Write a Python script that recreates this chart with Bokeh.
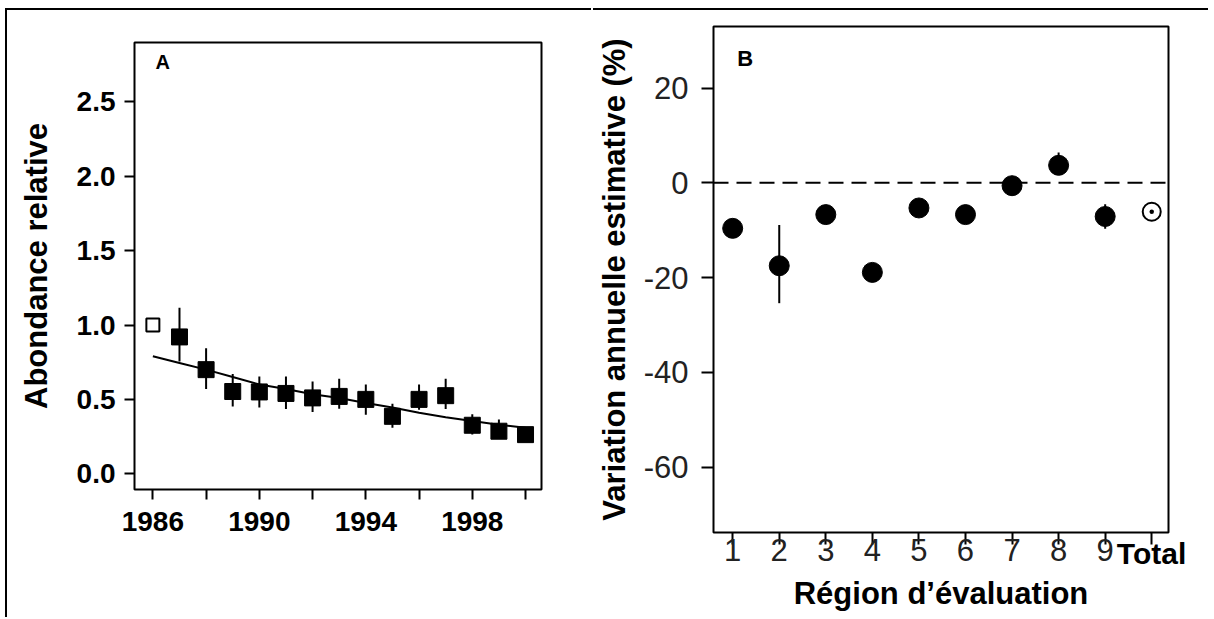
from bokeh.plotting import figure
from bokeh.models import FixedTicker, Span, Label, Range1d, ColumnDataSource
from bokeh.core.properties import value
from bokeh.embed import file_html
from bokeh.resources import INLINE

# ---- Panel A data ----
years = [1986, 1987, 1988, 1989, 1990, 1991, 1992, 1993, 1994, 1995, 1996, 1997, 1998, 1999, 2000]
abundance = [1.00, 0.92, 0.70, 0.553, 0.55, 0.54, 0.51, 0.52, 0.50, 0.386, 0.50, 0.525, 0.326, 0.286, 0.263]
ab_low = [1.00, 0.755, 0.57, 0.453, 0.446, 0.435, 0.415, 0.437, 0.397, 0.31, 0.43, 0.435, 0.264, 0.237, 0.24]
ab_high = [1.00, 1.116, 0.844, 0.67, 0.654, 0.654, 0.62, 0.638, 0.60, 0.47, 0.60, 0.638, 0.40, 0.364, 0.29]
trend = [0.79, 0.745, 0.70, 0.65, 0.60, 0.57, 0.535, 0.51, 0.475, 0.445, 0.41, 0.38, 0.355, 0.33, 0.31]
a_xticks = [1986, 1988, 1990, 1992, 1994, 1996, 1998, 2000]
a_xlabels = ["1986", "", "1990", "", "1994", "", "1998", ""]
a_yticks = [0.0, 0.5, 1.0, 1.5, 2.0, 2.5]
a_ylabels = ["0.0", "0.5", "1.0", "1.5", "2.0", "2.5"]

# ---- Panel B data ----
regions = ["1", "2", "3", "4", "5", "6", "7", "8", "9", "Total"]
change = [-9.6, -17.5, -6.7, -18.9, -5.3, -6.7, -0.6, 3.7, -7.1, -6.1]
ch_low = [-11.0, -25.4, -8.0, -20.3, -6.5, -8.0, -2.0, 2.3, -9.7, -7.0]
ch_high = [-8.2, -8.9, -5.4, -17.5, -4.1, -5.4, 0.8, 6.4, -4.5, -5.2]
b_yticks = [20, 0, -20, -40, -60]
b_ylabels = ["20", "0", "-20", "-40", "-60"]

FONT = "Liberation Sans"

# ================= Panel A =================
pA = figure(width=586, height=609, output_backend="svg", toolbar_location=None,
            x_range=Range1d(1985.31, 2000.6), y_range=Range1d(-0.106, 2.90),
            min_border_left=127, min_border_right=52, min_border_top=32, min_border_bottom=130)
pA.styles = {"position": "absolute", "left": "5px", "top": "8px",
             "border-top": "2px solid black", "border-left": "2px solid black"}
pA.xgrid.visible = False
pA.ygrid.visible = False
pA.outline_line_color = "black"
pA.outline_line_width = 2
pA.background_fill_color = "white"
pA.border_fill_color = "white"

src_a = ColumnDataSource(dict(x=years[1:], y=abundance[1:], lo=ab_low[1:], hi=ab_high[1:]))
pA.segment(x0="x", y0="lo", x1="x", y1="hi", source=src_a, line_color="black", line_width=2)
pA.line(years, trend, line_color="black", line_width=2)
pA.scatter(x="x", y="y", source=src_a, marker="square", size=16, fill_color="black", line_color="black")
pA.scatter([years[0]], [abundance[0]], marker="square", size=13, fill_color="white",
           line_color="black", line_width=2)

for ax in (pA.xaxis[0], pA.yaxis[0]):
    ax.axis_line_color = None
    ax.major_tick_line_color = "black"
    ax.major_tick_line_width = 2
    ax.major_tick_out = 10
    ax.major_tick_in = 0
    ax.minor_tick_line_color = None
    ax.major_label_text_font = FONT
    ax.major_label_text_font_style = "bold"
    ax.major_label_text_color = "black"

pA.xaxis.ticker = FixedTicker(ticks=a_xticks)
pA.xaxis.major_label_overrides = {t: l for t, l in zip(a_xticks, a_xlabels)}
pA.xaxis.major_label_text_font_size = "28px"
pA.xaxis.major_label_standoff = 12

pA.yaxis.ticker = FixedTicker(ticks=a_yticks)
pA.yaxis.major_label_overrides = {t: l for t, l in zip(a_yticks, a_ylabels)}
pA.yaxis.major_label_text_font_size = "28px"
pA.yaxis.major_label_standoff = 9
pA.yaxis.axis_label = "Abondance relative"
pA.yaxis.axis_label_text_font = FONT
pA.yaxis.axis_label_text_font_style = "bold"
pA.yaxis.axis_label_text_font_size = "31px"
pA.yaxis.axis_label_text_color = "black"
pA.yaxis.axis_label_standoff = 20

pA.add_layout(Label(x=1986.1, y=2.77, text="A", text_font=FONT, text_font_style="bold",
                    text_font_size="20px", text_color="black",
                    text_baseline="middle", text_align="left"))

# ================= Panel B =================
xb = list(range(1, len(regions) + 1))
pB = figure(width=615, height=609, output_backend="svg", toolbar_location=None,
            x_range=Range1d(0.588, 10.36), y_range=Range1d(-73.8, 33.0),
            min_border_left=117, min_border_right=40, min_border_top=16, min_border_bottom=87)
pB.styles = {"position": "absolute", "left": "593px", "top": "8px",
             "border-top": "2px solid black"}
pB.xgrid.visible = False
pB.ygrid.visible = False
pB.outline_line_color = "black"
pB.outline_line_width = 2
pB.background_fill_color = "white"
pB.border_fill_color = "white"

pB.add_layout(Span(location=0, dimension="width", line_color="black", line_width=2, line_dash="15 8"))

src_b = ColumnDataSource(dict(x=xb[:-1], y=change[:-1], lo=ch_low[:-1], hi=ch_high[:-1]))
pB.segment(x0="x", y0="lo", x1="x", y1="hi", source=src_b, line_color="black", line_width=2)
pB.scatter(x="x", y="y", source=src_b, marker="circle", size=20, fill_color="black", line_color="black")
pB.scatter([xb[-1]], [change[-1]], marker="circle_dot", size=18, fill_color="white",
           line_color="black", line_width=2)

for ax in (pB.xaxis[0], pB.yaxis[0]):
    ax.axis_line_color = None
    ax.major_tick_line_color = "black"
    ax.major_tick_line_width = 2
    ax.major_tick_out = 12
    ax.major_tick_in = 0
    ax.minor_tick_line_color = None
    ax.major_label_text_font = FONT
    ax.major_label_text_font_style = "normal"
    ax.major_label_text_color = "#222222"
    ax.major_label_text_font_size = "31px"
    ax.axis_label_text_font = FONT
    ax.axis_label_text_font_style = "bold"
    ax.axis_label_text_font_size = "31px"
    ax.axis_label_text_color = "black"

pB.xaxis.ticker = FixedTicker(ticks=xb)
pB.xaxis.major_label_overrides = {x: (r if r != "Total" else "") for x, r in zip(xb, regions)}
pB.xaxis.major_label_standoff = -6
pB.xaxis.axis_label = "Région d’évaluation"
pB.xaxis.axis_label_standoff = 12

pB.yaxis.ticker = FixedTicker(ticks=b_yticks)
pB.yaxis.major_label_overrides = {t: l for t, l in zip(b_yticks, b_ylabels)}
pB.yaxis.major_label_standoff = 13
pB.yaxis.axis_label = "Variation annuelle estimative (%)"
pB.yaxis.axis_label_standoff = 9

pB.add_layout(Label(x=1.1, y=26.2, text="B", text_font=FONT, text_font_style="bold",
                    text_font_size="22px", text_color="black",
                    text_baseline="middle", text_align="left"))

# ---- bold "Total" category label (separate small canvas over the tick position) ----
pT = figure(width=90, height=40, output_backend="svg", toolbar_location=None,
            x_range=Range1d(0, 1), y_range=Range1d(0, 1), x_axis_type=None, y_axis_type=None,
            min_border=0)
pT.styles = {"position": "absolute", "left": "1106px", "top": "533px"}
pT.outline_line_color = None
pT.background_fill_color = None
pT.border_fill_color = None
pT.text(x=[0.5], y=[0.5], text=[regions[-1]], text_font=value(FONT), text_font_style="bold",
        text_font_size="30px", text_color="black", text_align="center", text_baseline="middle")

open("out.html", "w").write(file_html([pA, pB, pT], INLINE))
